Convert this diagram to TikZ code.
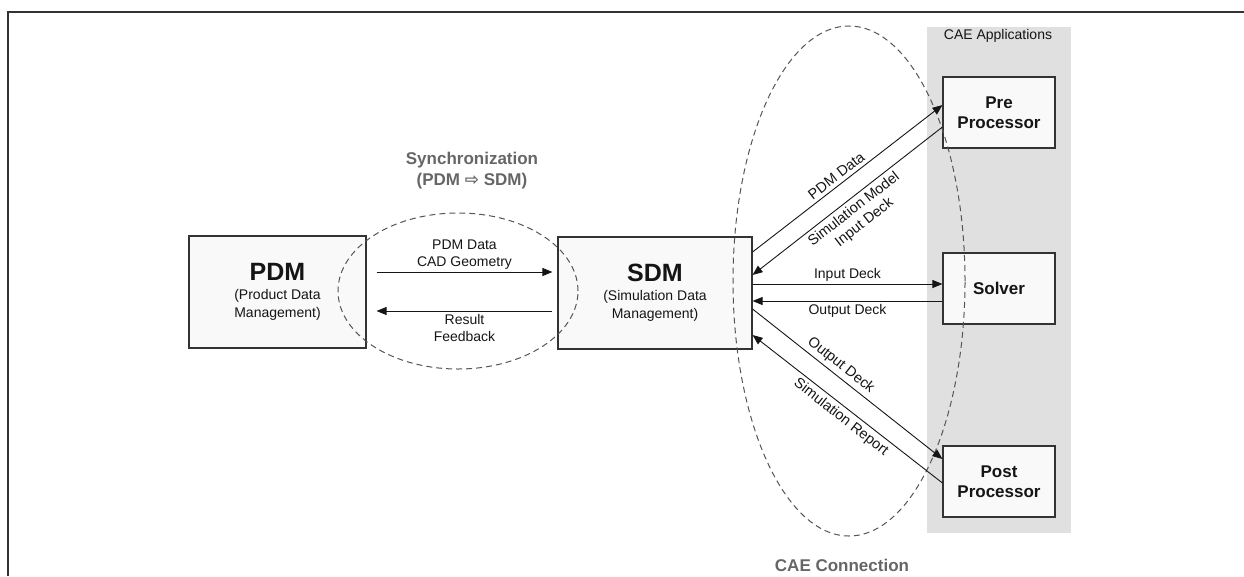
\documentclass[tikz,border=0pt]{standalone}
\usepackage{fontspec}
\setmainfont{Liberation Sans}
\newfontfamily\arrowfont{DejaVu Sans}
\usetikzlibrary{arrows.meta,calc}

\definecolor{framec}{HTML}{333333}
\definecolor{bandc}{HTML}{E0E0E0}
\definecolor{boxfill}{HTML}{F9F9F9}
\definecolor{dashc}{HTML}{555555}
\definecolor{titlec}{HTML}{666666}
\definecolor{inkc}{HTML}{151515}

\tikzset{
  box/.style={draw=framec, line width=1.1pt, fill=boxfill, align=center,
    inner sep=0pt, text=inkc},
  mainbox/.style={box, font=\fontsize{14}{18}\selectfont},
  appbox/.style={box, minimum width=112pt, minimum height=71pt,
    font=\fontsize{17}{20}\selectfont\bfseries},
  flow/.style={draw=inkc, line width=0.9pt, -{Triangle[length=10pt,width=8pt]}},
  lbl/.style={font=\fontsize{14}{17}\selectfont, text=inkc, inner sep=2.5pt, align=center},
  slbl/.style={lbl, sloped, font=\fontsize{14.5}{17}\selectfont, inner sep=3.5pt},
  zone/.style={draw=dashc, line width=1pt, dash pattern=on 6pt off 4pt},
  title/.style={font=\fontsize{17}{21}\selectfont\bfseries, text=titlec, align=center}
}

\begin{document}
\begin{tikzpicture}[x=1pt, y=-1pt]
\useasboundingbox (0,0) rectangle (1244,576);

% outer frame (open towards the right and bottom)
\draw[framec, line width=1.5pt] (8,576) -- (8,12) -- (1244,12);

% band holding the CAE applications
\fill[bandc] (927,27) rectangle (1071,533);
\node[lbl] (apps) at (998,36) {CAE Applications};

% main systems
\node[mainbox, minimum width=177pt, minimum height=112pt] (pdm) at (277.5,292)
  {{\fontsize{25}{28}\selectfont\bfseries PDM}\\[1pt](Product Data\\Management)};
\node[mainbox, minimum width=194pt, minimum height=112pt] (sdm) at (655,293)
  {{\fontsize{25}{28}\selectfont\bfseries SDM}\\[1pt](Simulation Data\\Management)};

% CAE applications
\node[appbox] (pre)    at (999,112.5) {Pre\\Processor};
\node[appbox] (solver) at (999,288.5) {Solver};
\node[appbox] (post)   at (999,481.5) {Post\\Processor};

% dashed zones
\draw[zone] (458,291) ellipse [x radius=120pt, y radius=78pt];
\draw[zone] (849,281) ellipse [x radius=116pt, y radius=255pt];

\node[title] (sync) at (472,170.5) {Synchronization\\(PDM {\arrowfont ⇨} SDM)};
\node[title] (caeconn) at (842,565) {CAE Connection};

% synchronization flows
\draw[flow] ([xshift=10pt,yshift=20pt]pdm.east)
  -- node[lbl, above] {PDM Data\\CAD Geometry} ([xshift=-5pt,yshift=21pt]sdm.west);
\draw[flow] ([xshift=-5pt,yshift=-18pt]sdm.west)
  -- node[lbl, below] {Result\\Feedback} ([xshift=10pt,yshift=-19pt]pdm.east);

% CAE connection flows
\draw[flow] ([yshift=41pt]sdm.east)
  -- node[slbl, above, pos=0.47] {PDM Data} ([yshift=7.5pt]pre.west);
\draw[flow] ([yshift=-14.5pt]pre.west)
  -- node[slbl, below, pos=0.5] {Simulation Model\\Input Deck} ([yshift=18pt]sdm.east);
\draw[flow] ([yshift=9pt]sdm.east)
  -- node[lbl, above] {Input Deck} ([yshift=4.5pt]solver.west);
\draw[flow] ([yshift=-12.5pt]solver.west)
  -- node[lbl, below] {Output Deck} ([yshift=-8pt]sdm.east);
\draw[flow] ([yshift=-16pt]sdm.east)
  -- node[slbl, above, pos=0.43] {Output Deck} ([yshift=22.5pt]post.west);
\draw[flow] ([yshift=-1.5pt]post.west)
  -- node[slbl, below, pos=0.5] {Simulation Report} ([yshift=-42pt]sdm.east);
\end{tikzpicture}
\end{document}
